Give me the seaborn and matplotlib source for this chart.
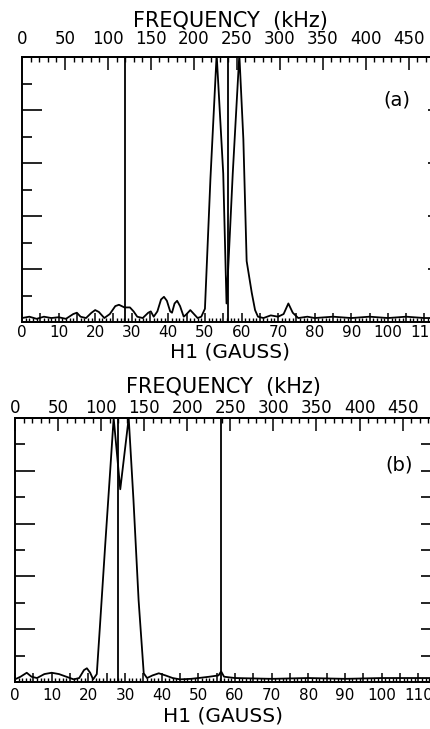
import matplotlib
matplotlib.use("Agg")
import matplotlib.pyplot as plt
import numpy as np
import pandas as pd
import seaborn as sns
from matplotlib.ticker import MultipleLocator

# ---------------- data ----------------
GAMMA = 4.258  # kHz per gauss (proton gyromagnetic ratio) -> top frequency axis

# panel (a): response vs H1 (gauss)
a_h1 = [0, 2, 4, 6, 8, 10, 12, 14, 15, 16, 17.5, 19, 20, 21, 22.5, 24, 25.5, 26.5,
        28, 29.5, 30.5, 31.5, 33, 34.5, 35.2, 36, 37, 38, 38.8, 39.6, 40.5, 41,
        41.7, 42.4, 43.2, 44.2, 45, 46, 47, 48, 49, 50, 51.5, 53.2, 55.0, 55.9,
        57.6, 59.4, 60.5, 61.4, 62.8, 63.7, 64.5, 66, 68, 70, 71.5, 72.8, 74,
        75.5, 78, 80, 85, 90, 95, 100, 105, 110, 114]
a_sig = [0.15, 0.2, 0.12, 0.2, 0.15, 0.18, 0.12, 0.3, 0.35, 0.2, 0.15, 0.35, 0.45,
         0.38, 0.15, 0.3, 0.6, 0.65, 0.55, 0.55, 0.4, 0.2, 0.15, 0.35, 0.4, 0.2,
         0.4, 0.85, 0.95, 0.8, 0.4, 0.35, 0.7, 0.8, 0.6, 0.2, 0.3, 0.45, 0.3, 0.15,
         0.2, 0.5, 5.4, 10.1, 5.6, 0.7, 5.6, 10.1, 6.9, 2.3, 1.1, 0.45, 0.2, 0.15,
         0.25, 0.2, 0.3, 0.7, 0.35, 0.15, 0.2, 0.15, 0.2, 0.15, 0.2, 0.15, 0.2,
         0.15, 0.15]
a_marks = [28.1, 56.4]

# panel (b)
b_h1 = [0, 1.5, 3.2, 4.5, 6, 8, 10, 12, 14, 16, 17.5, 18.8, 19.6, 20.5, 21.3, 22.3,
        23.2, 24.6, 26.0, 26.9, 28.7, 31.0, 32.3, 33.7, 35.1, 36, 37.5, 39.2, 41,
        43, 45, 48, 50, 53, 55.5, 56.2, 57, 60, 70, 80, 90, 100, 114]
b_sig = [0.1, 0.2, 0.35, 0.2, 0.15, 0.3, 0.35, 0.3, 0.2, 0.1, 0.15, 0.45, 0.52,
         0.35, 0.1, 0.3, 2.2, 5.2, 8.1, 10.0, 7.3, 10.0, 6.9, 3.1, 0.33, 0.15,
         0.25, 0.33, 0.25, 0.15, 0.1, 0.12, 0.15, 0.2, 0.25, 0.4, 0.2, 0.15, 0.12,
         0.15, 0.12, 0.15, 0.15]
b_marks = [28.1, 56.2]

gauss_major = list(range(0, 115, 5))
gauss_labels = [str(v) if v % 10 == 0 else "" for v in gauss_major]
freq_ticks = [0, 50, 100, 150, 200, 250, 300, 350, 400, 450]
freq_labels = [str(v) for v in freq_ticks]
panel_letters = ["(a)", "(b)"]

# ---------------- style ----------------
sns.set_style("ticks")
plt.rcParams["font.family"] = ["DejaVu Sans"]
plt.rcParams.update({
    "axes.linewidth": 1.4,
    "text.color": "black",
    "axes.labelcolor": "black",
    "axes.edgecolor": "black",
    "xtick.color": "black",
    "ytick.color": "black",
    "xtick.labelcolor": "black",
    "ytick.labelcolor": "black",
})

W, H = 431, 729
fig = plt.figure(figsize=(W / 100, H / 100), dpi=100)

PX = 72 / 100  # points per pixel


def panel(rect, h1, sig, marks, letter, letter_pos, top_pad, title_pad, bot_pad,
          xl_pad, right_major, right_minor):
    ax = fig.add_axes(rect)
    df = pd.DataFrame({"H1": h1, "S": sig})
    sns.lineplot(data=df, x="H1", y="S", ax=ax, sort=False, estimator=None,
                 color="black", lw=1.3)
    ax.vlines(marks, 0, 10, colors="black", lw=1.3)
    ax.set_xlim(0, 113.7)
    ax.set_ylim(0, 10)

    ax.set_xticks(gauss_major)
    ax.set_xticklabels(gauss_labels, fontsize=11)
    ax.xaxis.set_minor_locator(MultipleLocator(1))
    ax.tick_params(axis="x", which="major", direction="in", length=9 * PX,
                   width=1.1, pad=bot_pad * PX, top=False, bottom=True)
    ax.tick_params(axis="x", which="minor", direction="in", length=4 * PX,
                   width=1.0, top=False, bottom=True)

    ax.set_yticks(range(0, 11, 2))
    ax.yaxis.set_minor_locator(MultipleLocator(1))
    ax.tick_params(axis="y", which="major", direction="in", length=20 * PX,
                   width=1.2, left=True, right=False, labelleft=False)
    ax.tick_params(axis="y", which="minor", direction="in", length=10 * PX,
                   width=1.2, left=True, right=False)
    ax.set_ylabel("")
    ax.set_xlabel("H1 (GAUSS)", fontsize=14.5, labelpad=xl_pad * PX)

    rsec = ax.secondary_yaxis("right")
    rsec.set_yticks(range(0, 11, 2))
    rsec.set_yticklabels([])
    rsec.yaxis.set_minor_locator(MultipleLocator(1))
    rsec.tick_params(which="major", direction="in", length=right_major * PX, width=1.2)
    rsec.tick_params(which="minor", direction="in", length=right_minor * PX, width=1.2)

    sec = ax.secondary_xaxis("top", functions=(lambda g: g * GAMMA,
                                                lambda f: f / GAMMA))
    sec.set_xticks(freq_ticks)
    sec.set_xticklabels(freq_labels, fontsize=12)
    sec.xaxis.set_minor_locator(MultipleLocator(10))
    sec.tick_params(which="major", direction="in", length=13 * PX, width=1.1,
                    pad=top_pad * PX)
    sec.tick_params(which="minor", direction="in", length=5 * PX, width=1.0)
    sec.set_xlabel("FREQUENCY  (kHz)", fontsize=15, labelpad=title_pad * PX)

    ax.text(letter_pos[0], letter_pos[1], letter, transform=ax.transAxes,
            fontsize=14, ha="center", va="center")
    return ax


# panel (a): x 22..438 px, y 57..322 px
panel([22 / W, 1 - 322 / H, 416 / W, 265 / H], a_h1, a_sig, a_marks,
      panel_letters[0], (0.901, 0.838), top_pad=9, title_pad=3, bot_pad=3,
      xl_pad=2, right_major=10, right_minor=4)
# panel (b): x 15..432 px, y 418..682 px
panel([15 / W, 1 - 682 / H, 417 / W, 264 / H], b_h1, b_sig, b_marks,
      panel_letters[1], (0.921, 0.822), top_pad=0.5, title_pad=6, bot_pad=6,
      xl_pad=4, right_major=11, right_minor=11)

fig.savefig("out.png", dpi=100)
